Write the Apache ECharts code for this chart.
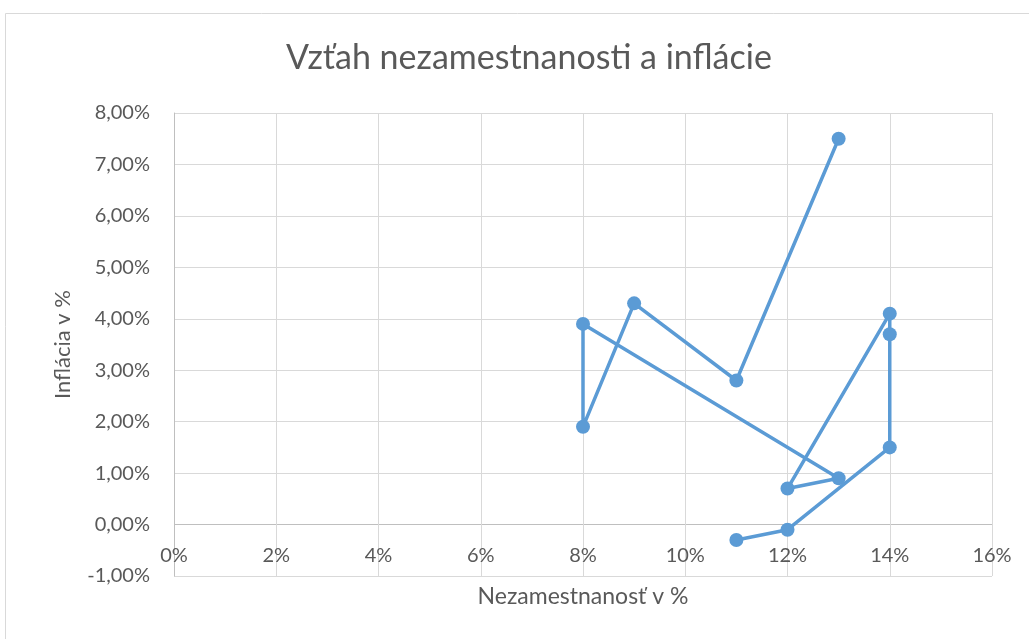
<!DOCTYPE html>
<html>
<head>
<meta charset="utf-8">
<script src="https://cdn.jsdelivr.net/npm/echarts@6/dist/echarts.min.js"></script>
<style>
  html, body { margin: 0; padding: 0; background: #fff; }
  #chart { width: 1029px; height: 639px; }
</style>
</head>
<body>
<div id="chart"></div>
<script>
// nezamestnanost (x) a inflacia (y), v percentach, v poradi bodov
const unemployment = [13, 11, 9, 8, 8, 13, 12, 14, 14, 14, 12, 11]
const inflation = [7.5, 2.8, 4.3, 1.9, 3.9, 0.9, 0.7, 4.1, 3.7, 1.5, -0.1, -0.3]

const points = unemployment.map((u, i) => [u, inflation[i]])

const textColor = '#595959'
const gridColor = '#d9d9d9'
const axisColor = '#bfbfbf'
const font = 'Lato, "Open Sans", sans-serif'

const chart = echarts.init(document.getElementById('chart'))
const option = {
  animation: false,
  title: {
    text: 'Vzťah nezamestnanosti a inflácie',
    left: 281,
    top: 36,
    textStyle: { fontFamily: font, fontSize: 34, fontWeight: 'normal', color: textColor }
  },
  graphic: [{
    type: 'rect',
    shape: { x: 5.5, y: 13.5, width: 1100, height: 700 },
    style: { fill: 'none', stroke: gridColor, lineWidth: 1 }
  }],
  grid: { left: 174, right: 37, top: 113, bottom: 63, outerBoundsMode: 'none' },
  xAxis: {
    type: 'value',
    min: 0, max: 16, interval: 2,
    name: 'Nezamestnanosť v %',
    nameLocation: 'middle',
    nameGap: 9,
    nameTextStyle: { fontFamily: font, fontSize: 23, color: textColor },
    // popisky sedia pri nulovej osi (0 %), nie pri spodku grafu
    axisLine: { show: false, onZero: false },
    axisTick: { show: false },
    axisLabel: {
      fontFamily: font, fontSize: 20, color: textColor, margin: -30,
      formatter: v => v + '%'
    },
    splitLine: { show: true, lineStyle: { color: gridColor, width: 1 } }
  },
  yAxis: {
    type: 'value',
    min: -1, max: 8, interval: 1,
    name: 'Inflácia v %',
    nameLocation: 'middle',
    nameGap: 100,
    nameRotate: 90,
    nameTextStyle: { fontFamily: font, fontSize: 22, color: textColor },
    axisLine: { show: true, lineStyle: { color: axisColor, width: 1 } },
    axisTick: { show: false },
    axisLabel: {
      fontFamily: font, fontSize: 20, color: textColor, margin: 24,
      formatter: v => v.toFixed(2).replace('.', ',') + '%'
    },
    splitLine: {
      show: true,
      lineStyle: {
        color: [gridColor, axisColor, gridColor, gridColor, gridColor, gridColor, gridColor, gridColor, gridColor, gridColor],
        width: 1
      }
    }
  },
  series: [{
    type: 'line',
    data: points,
    symbol: 'circle',
    symbolSize: 14,
    lineStyle: { color: '#5b9bd5', width: 3.5 },
    itemStyle: { color: '#5b9bd5' }
  }]
}
chart.setOption(option)
</script>
</body>
</html>
